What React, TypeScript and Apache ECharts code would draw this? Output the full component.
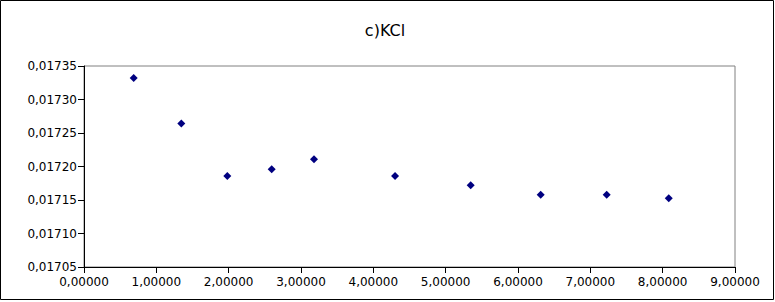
import React, { useEffect, useRef } from "react";
import * as echarts from "echarts";

const titleText = "c)KCl";
const xValues = [0.687, 1.345, 1.981, 2.595, 3.18, 4.3, 5.346, 6.314, 7.226, 8.084];
const yValues = [0.017332, 0.017264, 0.017186, 0.017196, 0.017211, 0.017186, 0.017172, 0.017158, 0.017158, 0.0171525];
const xMin = 0, xMax = 9, xStep = 1;
const yMin = 0.01705, yMax = 0.01735, yStep = 0.00005;

const fmt = (v: number) => v.toFixed(5).replace(".", ",");

export default function App() {
  const ref = useRef<HTMLDivElement>(null);
  useEffect(() => {
    document.body.style.margin = "0";
    const chart = echarts.init(ref.current!, null, { renderer: "svg" });
    const font = "'DejaVu Sans', Verdana, sans-serif";
    chart.setOption({
      animation: false,
      backgroundColor: "#ffffff",
      textStyle: { fontFamily: font },
      title: {
        text: titleText,
        left: 380,
        top: 17,
        textAlign: "center",
        textStyle: { fontFamily: font, fontSize: 16, fontWeight: "normal", color: "#000" },
      },
      graphic: [
        {
          type: "rect",
          shape: { x: 0.5, y: 0.5, width: 773, height: 299 },
          style: { fill: "none", stroke: "#000", lineWidth: 1 },
          silent: true,
        },
      ],
      grid: {
        left: 84,
        top: 66,
        width: 651,
        height: 201,
        show: true,
        borderColor: "#808080",
        borderWidth: 1,
        backgroundColor: "transparent",
      },
      xAxis: {
        type: "value",
        min: xMin,
        max: xMax,
        interval: xStep,
        axisLine: { show: true, onZero: false, lineStyle: { color: "#000", width: 1 } },
        axisTick: { show: true, length: 6, lineStyle: { color: "#000" } },
        splitLine: { show: false },
        axisLabel: { formatter: fmt, fontSize: 12, color: "#000", margin: 9, fontFamily: font },
      },
      yAxis: {
        type: "value",
        min: yMin,
        max: yMax,
        interval: yStep,
        axisLine: { show: true, onZero: false, lineStyle: { color: "#000", width: 1 } },
        axisTick: { show: true, length: 6, lineStyle: { color: "#000" } },
        splitLine: { show: false },
        axisLabel: { formatter: fmt, fontSize: 12, color: "#000", margin: 7, fontFamily: font },
      },
      series: [
        {
          type: "scatter",
          data: xValues.map((x, i) => [x, yValues[i]]),
          symbol: "diamond",
          symbolSize: 8,
          itemStyle: { color: "#000080", opacity: 1 },
        },
      ],
    });
    return () => chart.dispose();
  }, []);
  return <div ref={ref} style={{ width: 775, height: 302 }} />;
}
